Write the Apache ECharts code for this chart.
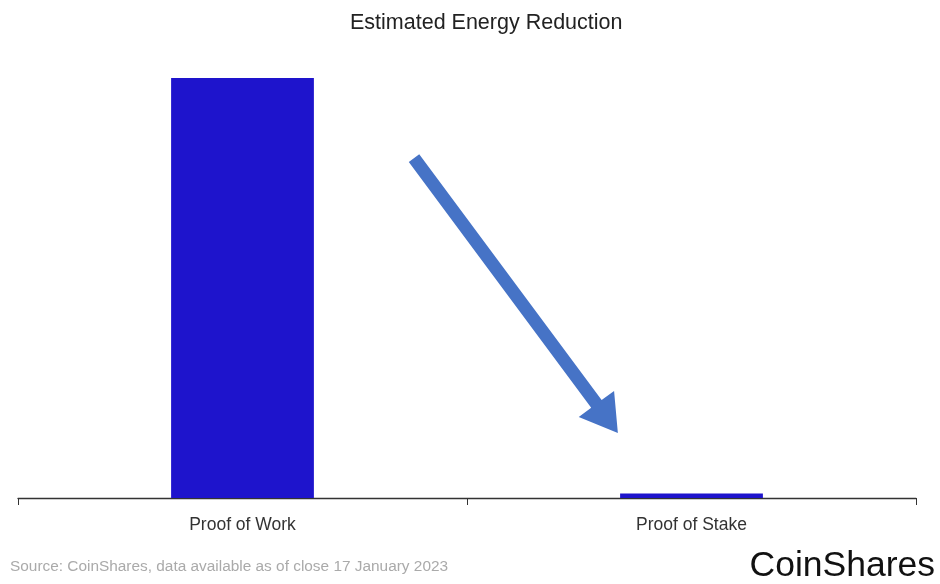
<!DOCTYPE html>
<html><head><meta charset="utf-8">
<script src="https://cdn.jsdelivr.net/npm/echarts@6/dist/echarts.min.js"></script>
<style>html,body{margin:0;padding:0;background:#fff}#c{width:940px;height:584px}</style>
</head><body><div id="c"></div>
<script>
const categories = ['Proof of Work', 'Proof of Stake'];
const energyValues = [100, 1.1];
// arrow annotation in data units: [x on 0..2 band scale, y value]
const arrowStart = [0.882, 80.9];
const arrowEnd = [1.336, 15.5];

const chart = echarts.init(document.getElementById('c'), null, {renderer: 'canvas'});
const option = {
  backgroundColor: '#fff',
  animation: false,
  title: {
    text: 'Estimated Energy Reduction',
    left: 345, top: 7,
    textStyle: {fontFamily: 'Liberation Sans', fontWeight: 'normal', fontSize: 21.5, color: '#222'}
  },
  grid: {left: 18, right: 24, top: 78, bottom: 86},
  xAxis: [{
    type: 'category', data: categories,
    axisLine: {lineStyle: {color: '#333', width: 1.3}},
    axisTick: {show: true, length: 7, lineStyle: {color: '#333'}},
    axisLabel: {fontFamily: 'Liberation Sans', fontSize: 17.5, color: '#333', margin: 18}
  }, {
    type: 'value', min: 0, max: 2, show: false
  }],
  yAxis: {type: 'value', min: 0, max: 100, show: false},
  series: [{
    type: 'bar', data: energyValues, barWidth: '31.8%', xAxisIndex: 0,
    itemStyle: {color: '#1e14cc'}
  }, {
    type: 'custom', xAxisIndex: 1, data: [[arrowStart[0], arrowStart[1], arrowEnd[0], arrowEnd[1]]],
    renderItem: function (params, api) {
      const s = api.coord([api.value(0), api.value(1)]);
      const e = api.coord([api.value(2), api.value(3)]);
      const dx = e[0] - s[0], dy = e[1] - s[1];
      const L = Math.sqrt(dx * dx + dy * dy);
      const ux = dx / L, uy = dy / L, px = -uy, py = ux;
      const hw = 6.5, headL = 36, headW = 22;
      const bx = e[0] - ux * headL, by = e[1] - uy * headL;
      const pts = [
        [s[0] + px * hw, s[1] + py * hw],
        [bx + px * hw, by + py * hw],
        [bx + px * headW, by + py * headW],
        [e[0], e[1]],
        [bx - px * headW, by - py * headW],
        [bx - px * hw, by - py * hw],
        [s[0] - px * hw, s[1] - py * hw]
      ];
      return {type: 'polygon', shape: {points: pts}, style: {fill: '#4673c6'}};
    }
  }],
  graphic: [{
    type: 'text', left: 10, top: 559,
    style: {text: 'Source: CoinShares, data available as of close 17 January 2023', fontFamily: 'Liberation Sans', fontSize: 15.4, fill: '#aaa'}
  }, {
    type: 'text', right: 5, top: 548,
    style: {text: 'CoinShares', fontFamily: 'Liberation Sans', fontSize: 35.5, fill: '#111'}
  }]
};
chart.setOption(option);
</script>
</body></html>
